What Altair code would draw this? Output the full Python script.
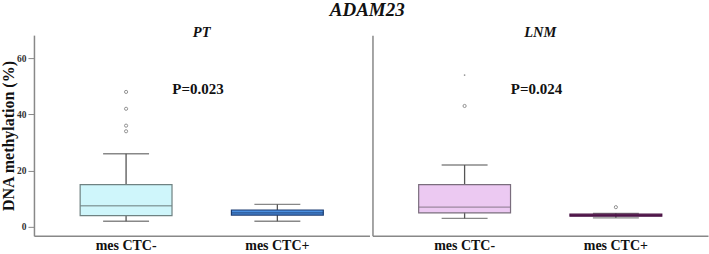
import altair as alt
import pandas as pd

groups = ["mes CTC-", "mes CTC+"]

# PT panel
pt_lo = [2, 2]
pt_q1 = [4, 4.2]
pt_med = [7.5, 5]
pt_q3 = [15, 6]
pt_hi = [26, 8]
pt_out_group = ["mes CTC-", "mes CTC-", "mes CTC-", "mes CTC-"]
pt_out_val = [34, 36, 42, 48]
pt_fill = ["#cff6fb", "#4a8fe0"]
pt_stroke = ["#6f8282", "#1c3d73"]

# LNM panel
lnm_lo = [3, 3.2]
lnm_q1 = [5, 3.8]
lnm_med = [7, 4.1]
lnm_q3 = [15, 4.5]
lnm_hi = [22, 4.8]
lnm_out_group = ["mes CTC-", "mes CTC+"]
lnm_out_val = [43, 7]
lnm_ext_group = ["mes CTC-"]
lnm_ext_val = [54]
lnm_fill = ["#ecc9f2", "#6b1f63"]
lnm_stroke = ["#7a6d7d", "#4a1445"]

p_values = ["P=0.023", "P=0.024"]
p_y = [49, 49]

FONT = "Liberation Serif"
W, H = 336, 201
YDOM = [-3.2, 68.2]


def panel(title, lo, q1, med, q3, hi, fill, stroke, out_g, out_v, ext_g, ext_v, ptxt, py, show_y):
    box = pd.DataFrame({"g": groups, "lo": lo, "q1": q1, "med": med, "q3": q3,
                        "hi": hi, "fill": fill, "stroke": stroke})
    xs = alt.X("g:N", sort=groups, title=None,
               scale=alt.Scale(paddingInner=0, paddingOuter=0.109),
               axis=alt.Axis(labelAngle=0, ticks=False, labelFont=FONT, labelFontWeight="bold",
                             labelFontSize=14, labelColor="#111", labelPadding=3,
                             domainColor="#888", domainWidth=1.5))
    if show_y:
        yaxis = alt.Axis(title="DNA methylation (%)", values=[0, 20, 40, 60], grid=False,
                         titleFont=FONT, titleFontWeight="bold", titleFontSize=16, titleColor="#111",
                         titlePadding=0, labelFont=FONT, labelFontWeight="bold", labelFontSize=9.5,
                         labelColor="#333", labelPadding=2, tickSize=6, tickColor="#888",
                         domainColor="#888", domainWidth=1.5)
    else:
        yaxis = alt.Axis(title=None, labels=False, ticks=False, grid=False,
                         domainColor="#888", domainWidth=1.5)
    ys = alt.Y("lo:Q", scale=alt.Scale(domain=YDOM, nice=False, zero=False), axis=yaxis)
    base = alt.Chart(box)
    whisk = base.mark_rule(color="#555", strokeWidth=1.3).encode(x=xs, y=ys, y2="hi:Q")
    cap_lo = base.mark_tick(color="#555", size=46, thickness=1.3).encode(x=xs, y=alt.Y("lo:Q"))
    cap_hi = base.mark_tick(color="#555", size=46, thickness=1.3).encode(x=xs, y=alt.Y("hi:Q"))
    bars = base.mark_bar(size=92, strokeWidth=1.2).encode(
        x=xs, y=alt.Y("q1:Q"), y2="q3:Q",
        fill=alt.Fill("fill:N", scale=None), stroke=alt.Stroke("stroke:N", scale=None))
    medl = base.mark_tick(size=92, thickness=1.3).encode(
        x=xs, y=alt.Y("med:Q"), color=alt.Color("stroke:N", scale=None))
    outs = alt.Chart(pd.DataFrame({"g": out_g, "v": out_v})).mark_point(
        shape="circle", size=10, filled=False, color="#555", strokeWidth=0.9).encode(
        x=xs, y=alt.Y("v:Q"))
    layers = [whisk, cap_lo, cap_hi, bars, medl, outs]
    if ext_g:
        ext = alt.Chart(pd.DataFrame({"g": ext_g, "v": ext_v})).mark_point(
            shape="circle", size=3, filled=True, color="#666").encode(x=xs, y=alt.Y("v:Q"))
        layers.append(ext)
    ptext = alt.Chart(pd.DataFrame({"g": [groups[0]], "v": [py], "t": [ptxt]})).mark_text(
        font=FONT, fontWeight="bold", fontSize=15, color="#111", dx=72, baseline="middle").encode(
        x=xs, y=alt.Y("v:Q"), text="t:N")
    layers.append(ptext)
    return alt.layer(*layers).properties(
        width=W, height=H,
        title=alt.TitleParams(title, font=FONT, fontStyle="italic", fontWeight="bold",
                              fontSize=14.5, color="#111", offset=-5.5, anchor="middle"))


left = panel("PT", pt_lo, pt_q1, pt_med, pt_q3, pt_hi, pt_fill, pt_stroke,
             pt_out_group, pt_out_val, [], [], p_values[0], p_y[0], True)
right = panel("LNM", lnm_lo, lnm_q1, lnm_med, lnm_q3, lnm_hi, lnm_fill, lnm_stroke,
              lnm_out_group, lnm_out_val, lnm_ext_group, lnm_ext_val, p_values[1], p_y[1], False)

chart = alt.hconcat(left, right, spacing=3).properties(
    title=alt.TitleParams("ADAM23", font=FONT, fontStyle="italic", fontWeight="bold",
                          fontSize=19, color="#111", anchor="middle", offset=5.5, dx=13),
    padding={"left": 0, "top": 0, "right": 1, "bottom": 0},
).configure_view(stroke=None).configure_concat(spacing=3)

chart.save("out.html", embed_options={"renderer": "svg", "actions": False})
